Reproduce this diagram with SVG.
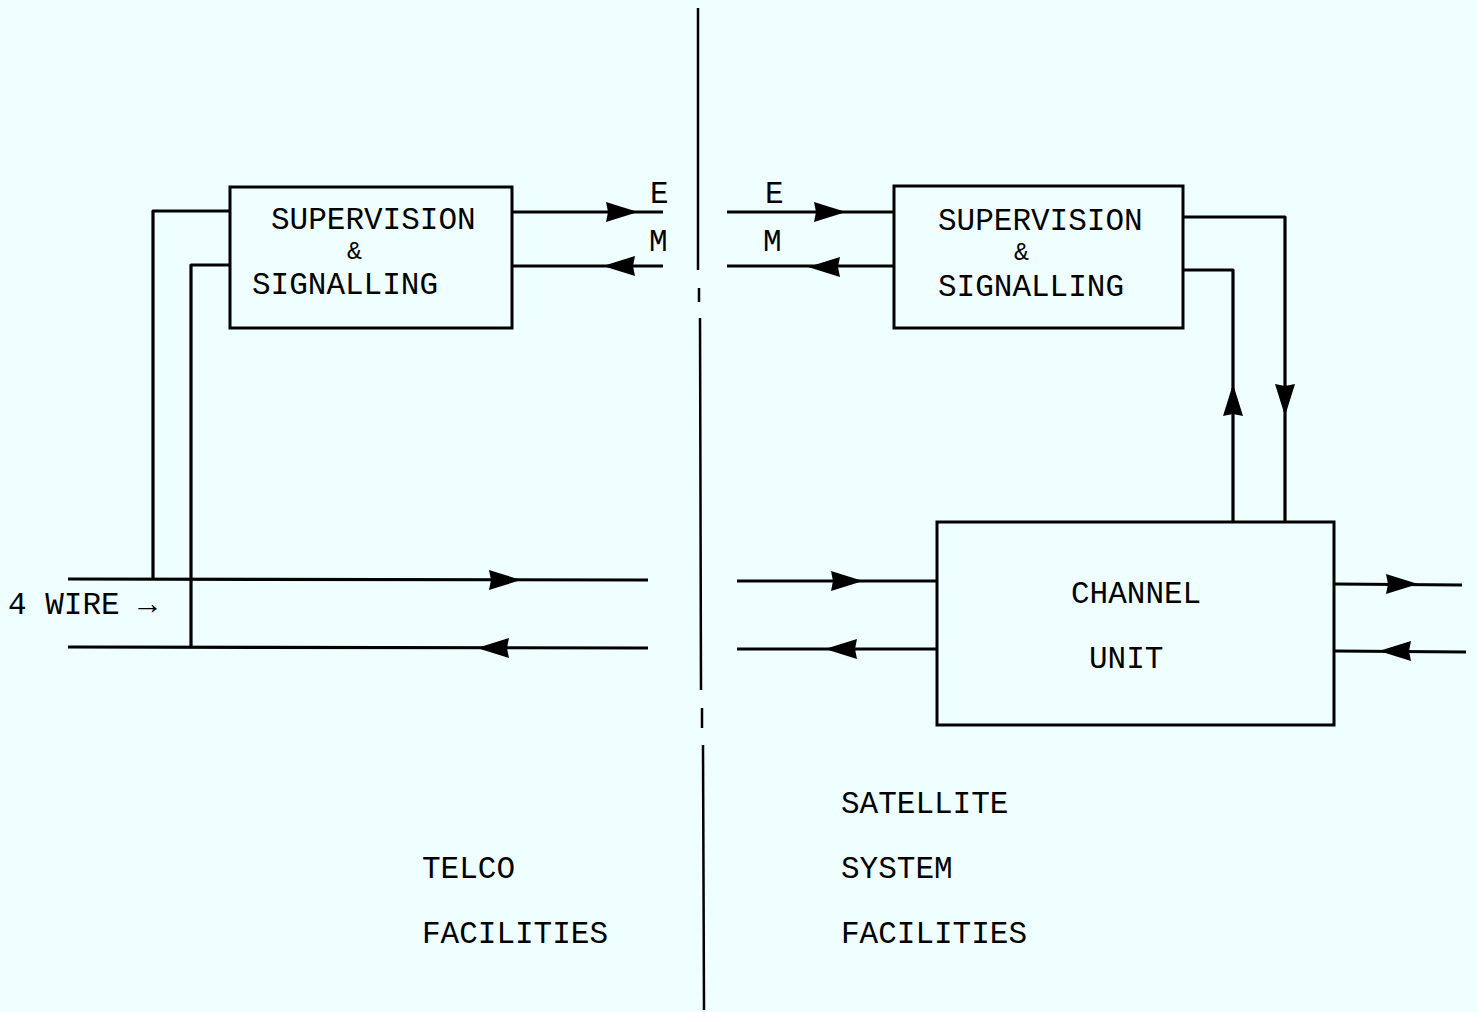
<svg xmlns="http://www.w3.org/2000/svg" xmlns:xlink="http://www.w3.org/1999/xlink" width="1477" height="1012" viewBox="0 0 1477 1012">
<style>
.bg{fill:#effefe}
.box{fill:none;stroke:#000;stroke-width:3}
.ln{fill:none;stroke:#000;stroke-width:3.2;stroke-linejoin:round}
.dv{fill:none;stroke:#000;stroke-width:2.5}
.t{font-family:"Liberation Mono","Courier New",monospace;font-size:31px;fill:#000}
.amp{font-family:"Liberation Mono","Courier New",monospace;font-size:25px;fill:#000}
</style>
<defs>
<path id="ah" d="M0,0 L-32,-10 L-30,0 L-32,10 Z" fill="#000"/>
</defs>
<rect class="bg" x="0" y="0" width="1477" height="1012"/>
<g id="divider">
<path class="dv" d="M698,8 L698,270 M699,288 L699,302 M700,318 L701,690 M702,708 L702,728 M703,745 L704,1010"/>
</g>
<g id="connectors">
<path class="ln" d="M512,212 L663,212 M512,266 L663,266"/>
<path class="ln" d="M230,211 L153,211 L153,579 M230,265 L191,265 L191,648"/>
<path class="ln" d="M68,579 L648,580 M68,647 L648,648"/>
<path class="ln" d="M727,212 L894,212 M727,266 L894,266"/>
<path class="ln" d="M1183,217 L1285,217 L1285,521 M1183,270 L1233,270 L1233,521"/>
<path class="ln" d="M737,581 L937,581 M737,649 L937,649"/>
<path class="ln" d="M1334,584 L1462,585 M1334,651 L1466,652"/>
<use xlink:href="#ah" transform="translate(638,212)"/>
<use xlink:href="#ah" transform="translate(603,266) rotate(180)"/>
<use xlink:href="#ah" transform="translate(521,580)"/>
<use xlink:href="#ah" transform="translate(477,648) rotate(180)"/>
<use xlink:href="#ah" transform="translate(846,212)"/>
<use xlink:href="#ah" transform="translate(808,267) rotate(180)"/>
<use xlink:href="#ah" transform="translate(1285,416) rotate(90)"/>
<use xlink:href="#ah" transform="translate(1233,384) rotate(-90)"/>
<use xlink:href="#ah" transform="translate(863,581)"/>
<use xlink:href="#ah" transform="translate(825,649) rotate(180)"/>
<use xlink:href="#ah" transform="translate(1418,584)"/>
<use xlink:href="#ah" transform="translate(1379,651) rotate(180)"/>
</g>
<g id="ss-left">
<rect class="box" x="230" y="187" width="282" height="141"/>
<text class="t" x="271" y="229">SUPERVISION</text>
<text class="amp" x="347" y="259">&amp;</text>
<text class="t" x="252" y="294">SIGNALLING</text>
</g>
<g id="ss-right">
<rect class="box" x="894" y="186" width="289" height="142"/>
<text class="t" x="938" y="230">SUPERVISION</text>
<text class="amp" x="1014" y="260">&amp;</text>
<text class="t" x="938" y="296">SIGNALLING</text>
</g>
<g id="channel-unit">
<rect class="box" x="937" y="522" width="397" height="203"/>
<text class="t" x="1071" y="603">CHANNEL</text>
<text class="t" x="1089" y="668">UNIT</text>
</g>
<g id="labels">
<text class="t" x="650" y="203">E</text>
<text class="t" x="649" y="251">M</text>
<text class="t" x="765" y="203">E</text>
<text class="t" x="763" y="251">M</text>
<text class="t" x="8" y="614">4 WIRE →</text>
<text class="t" x="422" y="878">TELCO</text>
<text class="t" x="422" y="943">FACILITIES</text>
<text class="t" x="841" y="813">SATELLITE</text>
<text class="t" x="841" y="878">SYSTEM</text>
<text class="t" x="841" y="943">FACILITIES</text>
</g>
</svg>
